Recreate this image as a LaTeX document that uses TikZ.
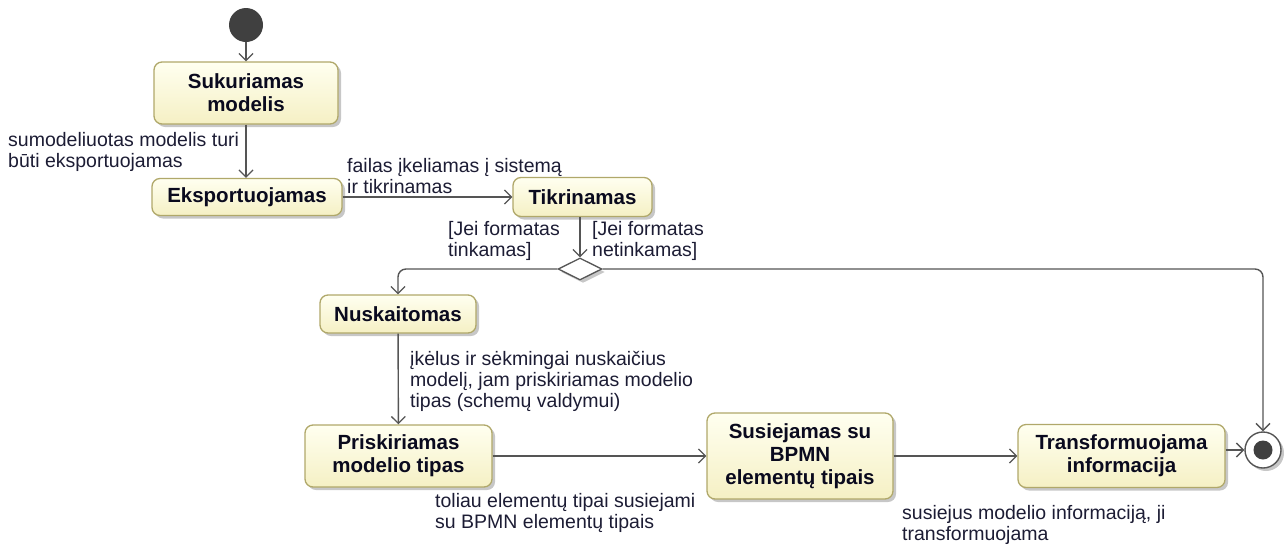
\documentclass[tikz,border=0pt]{standalone}
\usepackage{fontspec}
\setmainfont{Liberation Sans}
\usetikzlibrary{arrows.meta,shapes.geometric,shadows}

\definecolor{boxfillA}{HTML}{FFFFF0}
\definecolor{boxfillB}{HTML}{F5F0C4}
\definecolor{boxline}{HTML}{B0A86A}
\definecolor{flow}{HTML}{555555}
\definecolor{inknode}{HTML}{0A0A1E}
\definecolor{inklabel}{HTML}{1C1C34}
\definecolor{dot}{HTML}{404040}

\tikzset{
  softshadow/.style={drop shadow={shadow xshift=3pt, shadow yshift=-3pt, fill=black, opacity=0.22}},
  action/.style={draw=boxline, line width=1.3pt, rounded corners=8pt,
    top color=boxfillA, bottom color=boxfillB, softshadow,
    font=\fontsize{20.5}{23}\selectfont\bfseries, text=inknode,
    align=center, inner sep=2pt},
  note/.style={font=\fontsize{19.5}{21}\selectfont, text=inklabel,
    align=left, inner sep=0pt, anchor=north west},
  flowline/.style={draw=flow, line width=1.4pt,
    -{Straight Barb[length=7pt,width=14pt,line width=1.3pt]}},
}

\begin{document}
\begin{tikzpicture}[x=1pt,y=-1pt]
\useasboundingbox (0,0) rectangle (1285,544);

% start and end points
\node[circle, fill=dot, minimum size=34pt, inner sep=0pt] (init) at (246,25) {};
\node[circle, draw=flow, fill=white, line width=1.4pt, softshadow, minimum size=36pt, inner sep=0pt] (fin) at (1263,450) {};
\node[circle, fill=dot, minimum size=19pt, inner sep=0pt] (findot) at (fin) {};

% actions
\node[action, minimum width=184pt, minimum height=62pt] (sk) at (246,93) {Sukuriamas\\modelis};
\node[action, minimum width=190pt, minimum height=37pt] (ex) at (247,197) {Eksportuojamas};
\node[action, minimum width=139pt, minimum height=39pt] (tk) at (582.5,197) {Tikrinamas};
\node[action, minimum width=156pt, minimum height=38pt] (nu) at (398,314) {Nuskaitomas};
\node[action, minimum width=187pt, minimum height=62pt] (pr) at (398.5,456) {Priskiriamas\\modelio tipas};
\node[action, minimum width=186pt, minimum height=86pt] (su) at (800,456) {Susiejamas su\\BPMN\\elementų tipais};
\node[action, minimum width=207pt, minimum height=63pt] (tr) at (1121.5,456) {Transformuojama\\informacija};

% decision
\node[diamond, draw=flow, fill=white, line width=1.3pt, aspect=2, softshadow,
      minimum width=44pt, minimum height=22pt, inner sep=0pt] (dia) at (580,269) {};

% flows
\draw[flowline] (init) -- (sk);
\draw[flowline] (sk) -- (sk |- ex.north);
\draw[flowline] (ex.east) -- (tk.west);
\draw[flowline] (dia |- tk.south) -- (dia.north);
\draw[flowline, rounded corners=8pt] (dia.west) -| (nu.north);
\draw[flowline, rounded corners=8pt] (dia.east) -| (fin.north);
\draw[flowline] (nu) -- (pr);
\draw[flowline] (pr.east) -- (su.west);
\draw[flowline] (su.east) -- (tr.west);
\draw[flowline] (tr.east |- fin) -- (fin.west);

% flow labels
\node[note] (l1) at (8,132) {sumodeliuotas modelis turi\\būti eksportuojamas};
\node[note] (l2) at (347,158) {failas įkeliamas į sistemą\\ir tikrinamas};
\node[note] (g1) at (448,221) {[Jei formatas\\tinkamas]};
\node[note] (g2) at (592,221) {[Jei formatas\\netinkamas]};
\node[note] (l3) at (410,351) {įkėlus ir sėkmingai nuskaičius\\modelį, jam priskiriamas modelio\\tipas (schemų valdymui)};
\node[note] (l4) at (435,493) {toliau elementų tipai susiejami\\su BPMN elementų tipais};
\node[note] (l5) at (902,505) {susiejus modelio informaciją, ji\\transformuojama};
\end{tikzpicture}
\end{document}
